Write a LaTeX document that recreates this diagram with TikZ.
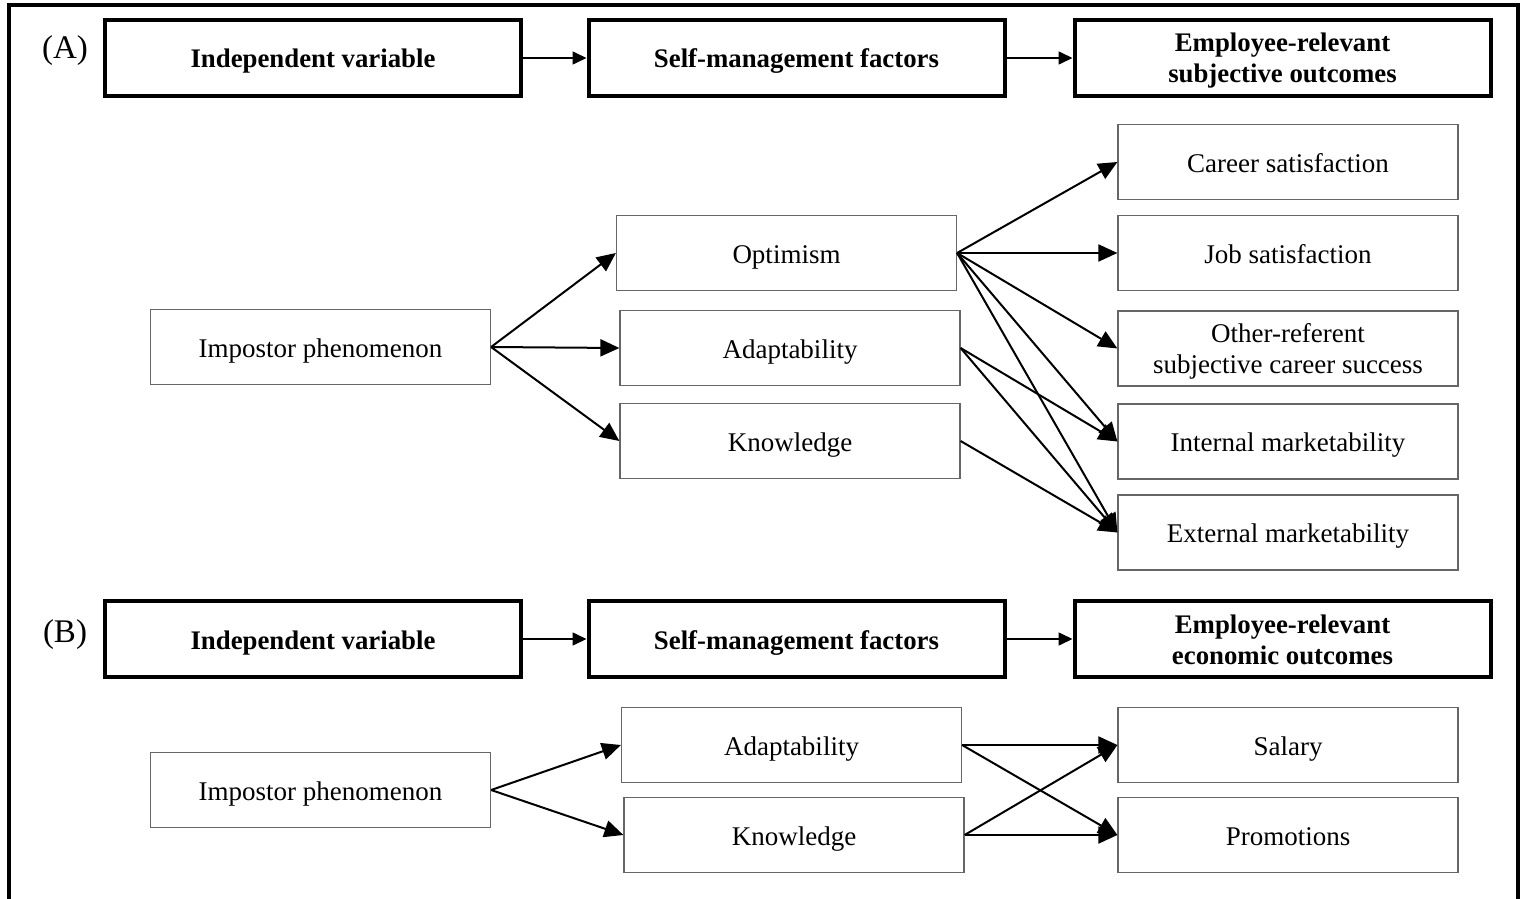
\documentclass[tikz,border=0pt]{standalone}
\usepackage{fontspec}
\setmainfont{Liberation Serif}
\usetikzlibrary{arrows.meta}
\begin{document}
\begin{tikzpicture}[x=0.5pt,y=-0.5pt,
  hbox/.style={draw=black,line width=2pt,minimum width=208pt,minimum height=38pt,inner sep=0pt,align=center,font=\fontsize{13.4}{15.5}\selectfont\bfseries,text height=12pt,text depth=2pt},
  hbox2/.style={hbox,text height=27pt,text depth=2pt},
  vbox/.style={draw=black!60,line width=0.6pt,minimum width=170pt,minimum height=37.5pt,inner sep=0pt,align=center,font=\fontsize{13.5}{15.5}\selectfont,text height=12pt,text depth=2pt},
  vbox2/.style={vbox,text height=27pt,text depth=2pt},
  arr/.style={line width=1pt,-{Triangle[length=9.5pt,width=8.5pt]}},
  harr/.style={line width=0.8pt,-{Triangle[length=7pt,width=6.5pt]}},
  lab/.style={font=\fontsize{16.5}{18}\selectfont}
]
\useasboundingbox (0,0) rectangle (1521,899);
\clip (0,0) rectangle (1521,899);
\draw[line width=1.6pt] (9,5) rectangle (1518,920);

% ---- Part A ----
\node[lab] (la) at (65,51) {(A)};
\node[hbox] (a1) at (313,58) {Independent variable};
\node[hbox] (a2) at (796.5,58) {Self-management factors};
\node[hbox2] (a3) at (1282.5,58) {Employee-relevant\\subjective outcomes};
\draw[harr] (a1.east) -- (a2.west);
\draw[harr] (a2.east) -- (a3.west);

\node[vbox] (ip) at (320.5,347) {Impostor phenomenon};
\node[vbox] (opt) at (786.5,253) {Optimism};
\node[vbox] (ada) at (790,348) {Adaptability};
\node[vbox] (kno) at (790,441) {Knowledge};
\node[vbox] (cs) at (1288,162) {Career satisfaction};
\node[vbox] (js) at (1288,253) {Job satisfaction};
\node[vbox2] (or) at (1288,348.5) {Other-referent\\subjective career success};
\node[vbox] (im) at (1288,441.5) {Internal marketability};
\node[vbox] (em) at (1288,532.5) {External marketability};

\draw[arr] (ip.east) -- (opt.west);
\draw[arr] (ip.east) -- (ada.west);
\draw[arr] (ip.east) -- (kno.west);
\draw[arr] (opt.east) -- (cs.west);
\draw[arr] (opt.east) -- (js.west);
\draw[arr] (opt.east) -- (or.west);
\draw[arr] (opt.east) -- (im.west);
\draw[arr] (opt.east) -- (em.west);
\draw[arr] (ada.east) -- (im.west);
\draw[arr] (ada.east) -- (em.west);
\draw[arr] (kno.east) -- (em.west);

% ---- Part B ----
\node[lab] (lb) at (65,635) {(B)};
\node[hbox] (b1) at (313,639) {Independent variable};
\node[hbox] (b2) at (796.5,639) {Self-management factors};
\node[hbox2] (b3) at (1282.5,639) {Employee-relevant\\economic outcomes};
\draw[harr] (b1.east) -- (b2.west);
\draw[harr] (b2.east) -- (b3.west);

\node[vbox] (ipb) at (320.5,790) {Impostor phenomenon};
\node[vbox] (adab) at (791.5,745) {Adaptability};
\node[vbox] (knob) at (794,835) {Knowledge};
\node[vbox] (sal) at (1288,745) {Salary};
\node[vbox] (pro) at (1288,835) {Promotions};

\draw[arr] (ipb.east) -- (adab.west);
\draw[arr] (ipb.east) -- (knob.west);
\draw[arr] (adab.east) -- (sal.west);
\draw[arr] (adab.east) -- (pro.west);
\draw[arr] (knob.east) -- (sal.west);
\draw[arr] (knob.east) -- (pro.west);
\end{tikzpicture}
\end{document}
